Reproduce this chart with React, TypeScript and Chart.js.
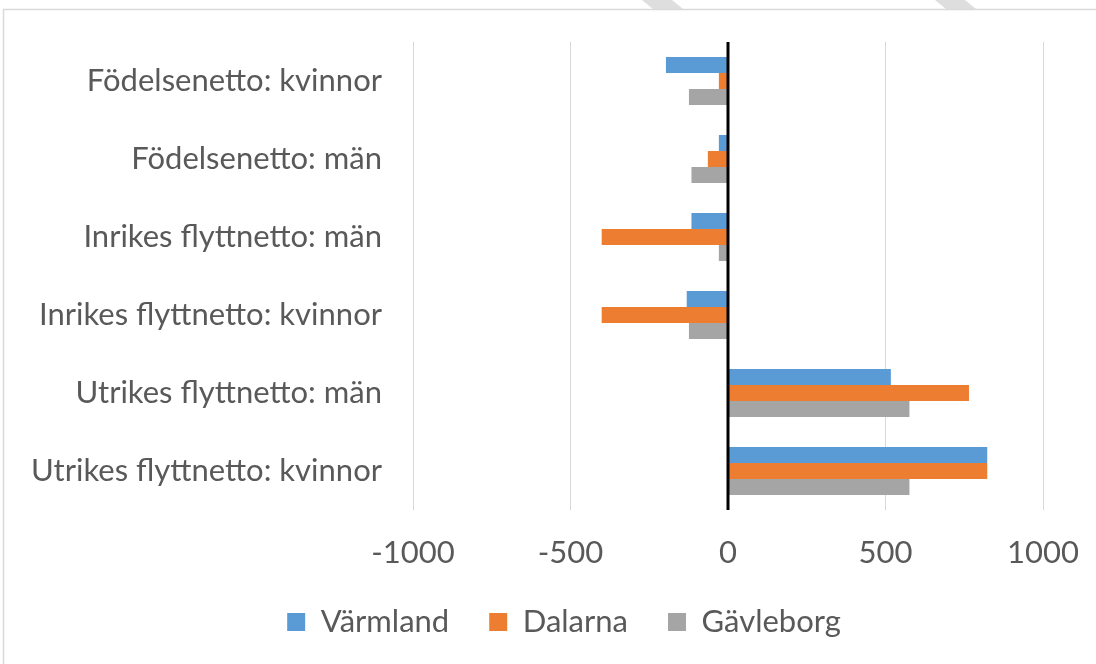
import React, { useEffect, useRef } from "react";
import { Chart, registerables } from "chart.js";

Chart.register(...registerables);

const categories = [
  "Födelsenetto: kvinnor",
  "Födelsenetto: män",
  "Inrikes flyttnetto: män",
  "Inrikes flyttnetto: kvinnor",
  "Utrikes flyttnetto: män",
  "Utrikes flyttnetto: kvinnor",
];
const seriesNames = ["Värmland", "Dalarna", "Gävleborg"];
const varmland = [-197, -29, -116, -131, 517, 823];
const dalarna = [-29, -64, -401, -401, 765, 823];
const gavleborg = [-124, -116, -29, -124, 576, 576];
const seriesColors = ["#5B9BD5", "#ED7D31", "#A5A5A5"];
const xMin = -1000;
const xMax = 1000;
const xStep = 500;

const FONT = "Lato, 'Open Sans', sans-serif";
const TEXT = "#595959";
const FS = 31;
const LEGEND_CENTER = 564;

const framePlugin = {
  id: "frame",
  beforeDraw(chart: any) {
    const ctx = chart.ctx;
    ctx.save();
    ctx.fillStyle = "#ffffff";
    ctx.fillRect(0, 0, chart.width, chart.height);
    const bands = [642, 935];
    for (const bx of bands) {
      ctx.fillStyle = "#DEDEDE";
      ctx.beginPath();
      ctx.moveTo(bx, 0);
      ctx.lineTo(bx + 30, 0);
      ctx.lineTo(bx + 41, 9);
      ctx.lineTo(bx + 11, 9);
      ctx.closePath();
      ctx.fill();
    }
    ctx.strokeStyle = "#D9D9D9";
    ctx.lineWidth = 1.5;
    ctx.beginPath();
    ctx.moveTo(3.5, chart.height + 2);
    ctx.lineTo(3.5, 9.5);
    ctx.lineTo(chart.width + 2, 9.5);
    ctx.stroke();
    ctx.restore();
  },
};

const legendShiftPlugin = {
  id: "legendShift",
  afterLayout(chart: any) {
    const lg = chart.legend;
    if (!lg) return;
    const d = LEGEND_CENTER - (lg.left + lg.right) / 2;
    lg.left += d;
    lg.right += d;
  },
};

const zeroLinePlugin = {
  id: "zeroLine",
  afterDatasetsDraw(chart: any) {
    const x = chart.scales.x.getPixelForValue(0);
    const { top, bottom } = chart.chartArea;
    const ctx = chart.ctx;
    ctx.save();
    ctx.strokeStyle = "#000000";
    ctx.lineWidth = 3;
    ctx.beginPath();
    ctx.moveTo(x, top);
    ctx.lineTo(x, bottom);
    ctx.stroke();
    ctx.restore();
  },
};

export default function App() {
  const ref = useRef<HTMLCanvasElement | null>(null);

  useEffect(() => {
    if (!ref.current) return;
    const chart = new Chart(ref.current, {
      type: "bar",
      data: {
        labels: categories,
        datasets: [varmland, dalarna, gavleborg].map((d, i) => ({
          label: seriesNames[i],
          data: d,
          backgroundColor: seriesColors[i],
          borderWidth: 0,
          categoryPercentage: 0.615,
          barPercentage: 1.0,
        })),
      },
      options: {
        indexAxis: "y",
        animation: false,
        responsive: false,
        devicePixelRatio: 1,
        layout: { padding: { top: 42, left: 0, right: 0, bottom: 16.5 } },
        scales: {
          x: {
            min: xMin,
            max: xMax,
            border: { display: false },
            afterFit: (scale: any) => {
              scale.height = 56.5;
              scale.paddingLeft = 0;
              scale.paddingRight = 53;
            },
            grid: {
              color: (c: any) => (c.tick && c.tick.value === 0 ? "rgba(0,0,0,0)" : "#D9D9D9"),
              lineWidth: 1,
              drawTicks: false,
            },
            ticks: {
              stepSize: xStep,
              padding: 24,
              color: TEXT,
              font: { family: FONT, size: FS },
              callback: (v: any) => String(v),
            },
          },
          y: {
            border: { display: false },
            grid: { display: false, drawTicks: false },
            afterFit: (scale: any) => {
              scale.width = 413;
              scale.paddingTop = 0;
              scale.paddingBottom = 0;
            },
            ticks: {
              padding: 31,
              color: TEXT,
              font: { family: FONT, size: FS },
            },
          },
        },
        plugins: {
          legend: {
            position: "bottom",
            labels: {
              boxWidth: 18,
              boxHeight: 18,
              padding: 40,
              color: TEXT,
              font: { family: FONT, size: FS },
            },
          },
          tooltip: { enabled: false },
        },
      },
      plugins: [framePlugin, legendShiftPlugin, zeroLinePlugin],
    });
    return () => chart.destroy();
  }, []);

  return (
    <div style={{ position: "absolute", left: 0, top: 0, width: 1096, height: 664 }}>
      <canvas ref={ref} width={1096} height={664} style={{ width: 1096, height: 664, display: "block" }} />
    </div>
  );
}
